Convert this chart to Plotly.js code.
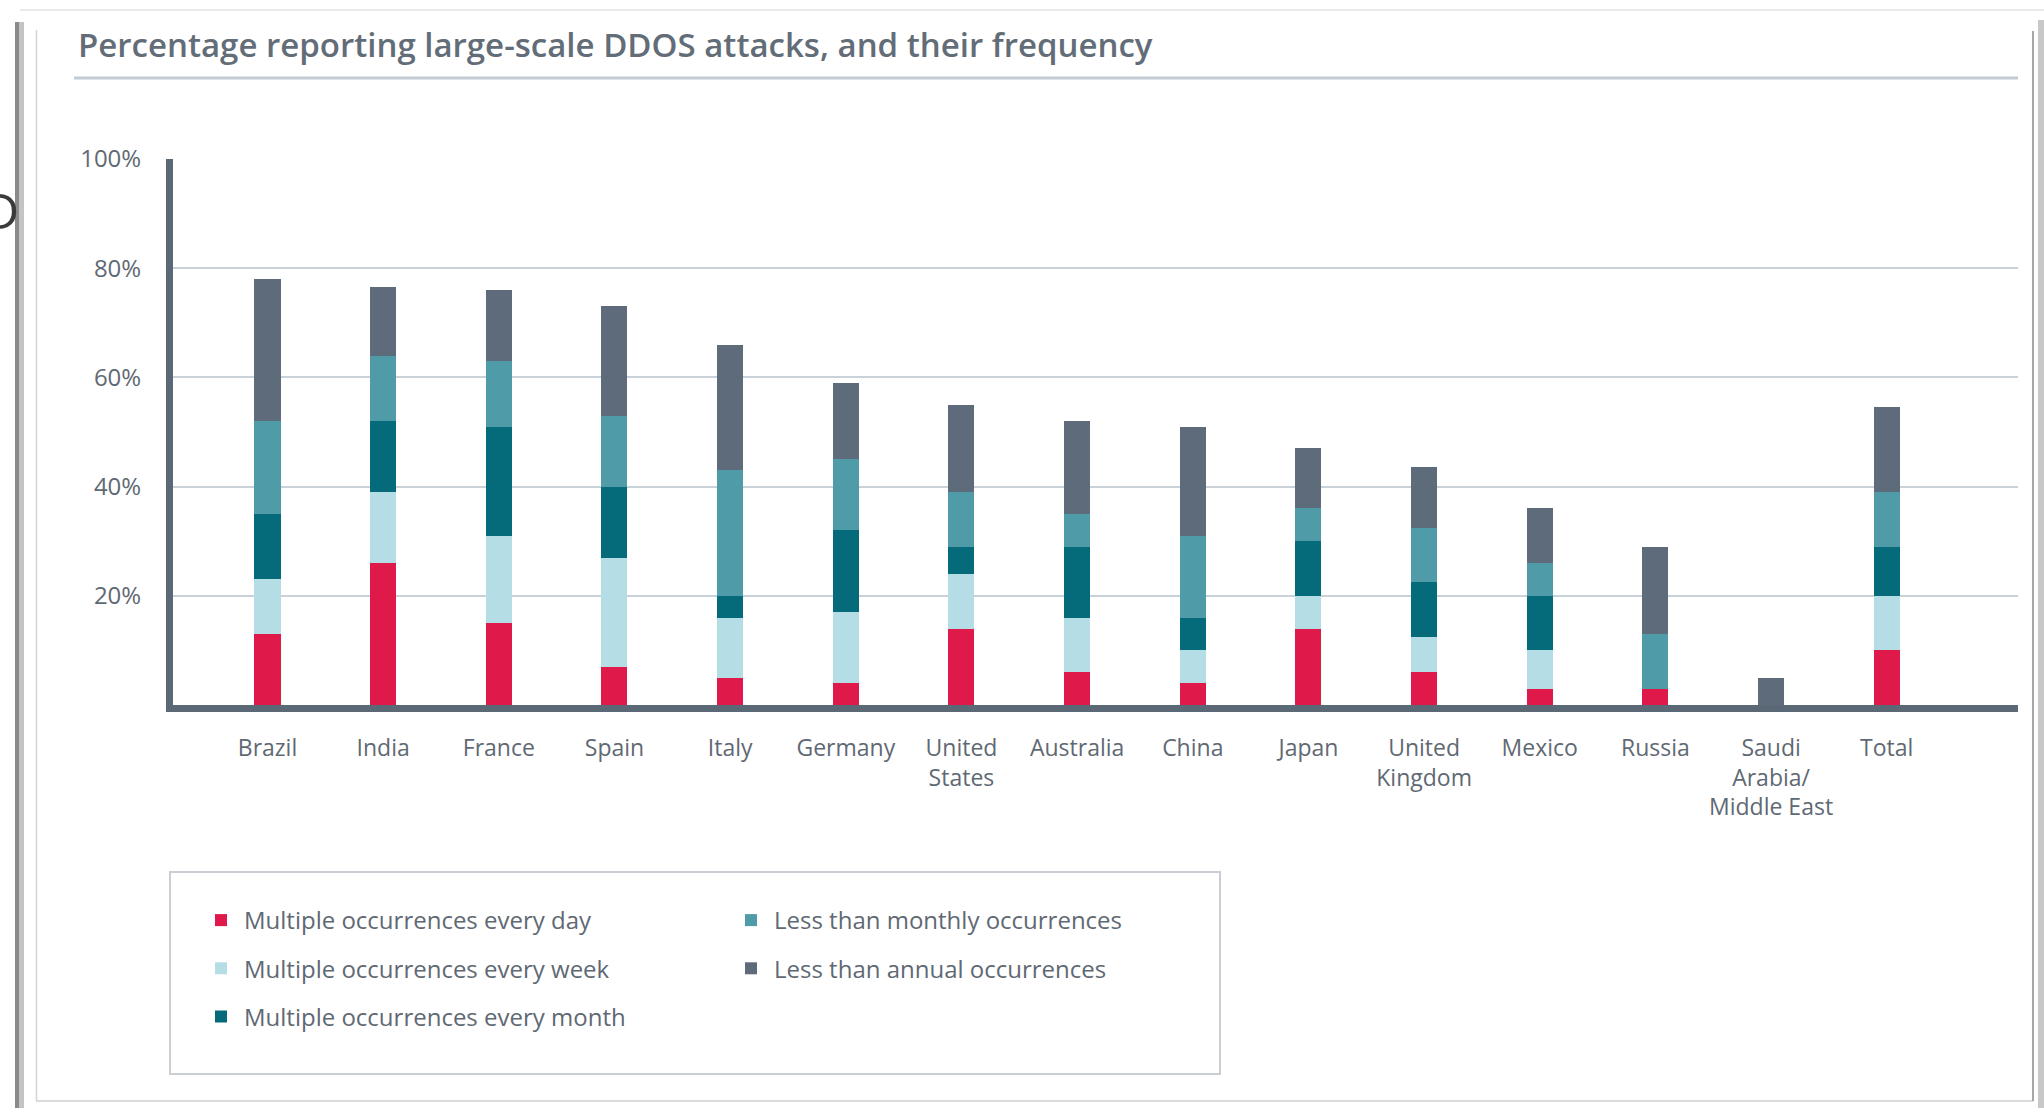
<!DOCTYPE html>
<html>
<head>
<meta charset="utf-8">
<script src="https://cdn.plot.ly/plotly-3.0.1.min.js"></script>
<style>
  html, body { margin: 0; padding: 0; background: #ffffff; }
  #chart { width: 2044px; height: 1108px; }
</style>
</head>
<body>
<div id="chart"></div>
<script>
// ---- data (percent of respondents) ----
const categories = ['Brazil', 'India', 'France', 'Spain', 'Italy', 'Germany', 'United<br>States',
  'Australia', 'China', 'Japan', 'United<br>Kingdom', 'Mexico', 'Russia',
  'Saudi<br>Arabia/<br>Middle East', 'Total'];

const seriesNames = ['Multiple occurrences every day', 'Multiple occurrences every week',
  'Multiple occurrences every month', 'Less than monthly occurrences', 'Less than annual occurrences'];

const everyDay     = [13, 26, 15, 7, 5, 4, 14, 6, 4, 14, 6, 3, 3, 0, 10];
const everyWeek    = [10, 13, 16, 20, 11, 13, 10, 10, 6, 6, 6.5, 7, 0, 0, 10];
const everyMonth   = [12, 13, 20, 13, 4, 15, 5, 13, 6, 10, 10, 10, 0, 0, 9];
const lessMonthly  = [17, 12, 12, 13, 23, 13, 10, 6, 15, 6, 10, 6, 10, 0, 10];
const lessAnnual   = [26, 12.5, 13, 20, 23, 14, 16, 17, 20, 11, 11, 10, 16, 5, 15.5];

const yTickVals = [20, 40, 60, 80, 100];
const yTickText = ['20%', '40%', '60%', '80%', '100%'];

const colors = ['#e0194b', '#b4dde6', '#056a7a', '#4f9ba8', '#5d6b7a'];

// ---- layout helpers (pixel -> paper) ----
const W = 2044, H = 1108;
const L = 173, R = 2018, T = 159, B = 705;
const px = x => (x - L) / (R - L);
const py = y => (B - y) / (B - T);

const FONT = '"Open Sans", "DejaVu Sans", sans-serif';
const TXT = '#5f6973';

const values = [everyDay, everyWeek, everyMonth, lessMonthly, lessAnnual];
const traces = values.map((v, i) => ({
  type: 'bar',
  name: seriesNames[i],
  x: categories,
  y: v,
  marker: { color: colors[i], line: { width: 0 } },
  legend: i < 3 ? 'legend' : 'legend2',
  legendgroup: 'g' + i,
  hoverinfo: 'skip'
}));

const shapes = [
  // outer frame / page edges
  { type: 'line', xref: 'paper', yref: 'paper', x0: px(20), x1: px(2044), y0: py(10), y1: py(10), line: { color: '#e3e3e3', width: 1.5 } },
  { type: 'rect', xref: 'paper', yref: 'paper', x0: px(15), x1: px(19), y0: py(22), y1: py(1108), fillcolor: '#8a8a8a', line: { width: 0 } },
  { type: 'rect', xref: 'paper', yref: 'paper', x0: px(19), x1: px(24), y0: py(22), y1: py(1108), fillcolor: '#c4c4c4', line: { width: 0 } },
  { type: 'line', xref: 'paper', yref: 'paper', x0: px(36.5), x1: px(36.5), y0: py(30), y1: py(1101), line: { color: '#d4d4d4', width: 1.5 } },
  { type: 'line', xref: 'paper', yref: 'paper', x0: px(36), x1: px(2033), y0: py(1101), y1: py(1101), line: { color: '#cfcfcf', width: 1.5 } },
  { type: 'line', xref: 'paper', yref: 'paper', x0: px(2033), x1: px(2033), y0: py(31), y1: py(1101), line: { color: '#8a8a8a', width: 1.5 } },
  { type: 'rect', xref: 'paper', yref: 'paper', x0: px(2038), x1: px(2044), y0: py(20), y1: py(1108), fillcolor: '#c8c8c8', line: { width: 0 } },
  // rule under the title
  { type: 'line', xref: 'paper', yref: 'paper', x0: px(74), x1: px(2018), y0: py(78), y1: py(78), line: { color: '#c3ccd4', width: 3 } },
  // legend frame
  { type: 'rect', xref: 'paper', yref: 'paper', x0: px(170), x1: px(1220), y0: py(872), y1: py(1074), line: { color: '#c8ced4', width: 2 }, fillcolor: 'rgba(0,0,0,0)' }
];

const legendCommon = {
  yanchor: 'top', xanchor: 'left',
  orientation: 'v', traceorder: 'grouped', tracegroupgap: 14,
  itemwidth: 36,
  bgcolor: 'rgba(0,0,0,0)', borderwidth: 0,
  font: { family: FONT, size: 24, color: TXT }
};

const layout = {
  width: W, height: H,
  margin: { l: L, r: W - R, t: T, b: H - B, pad: 0 },
  paper_bgcolor: '#ffffff',
  plot_bgcolor: '#ffffff',
  barmode: 'stack',
  bargap: 0.775,
  showlegend: true,
  title: {
    text: 'Percentage reporting large-scale DDOS attacks, and their frequency',
    xref: 'container', yref: 'container',
    x: 78 / W, xanchor: 'left',
    y: 1 - 45 / H, yanchor: 'middle',
    font: { family: FONT, size: 33, weight: 600, color: '#626d78' }
  },
  xaxis: {
    type: 'category',
    range: [-0.817, 15.135],
    showline: true, linecolor: '#5b6876', linewidth: 7,
    showgrid: false, zeroline: false,
    ticks: 'outside', ticklen: 16, tickcolor: 'rgba(0,0,0,0)',
    tickfont: { family: FONT, size: 23, color: TXT },
    fixedrange: true
  },
  yaxis: {
    range: [0, 100],
    tickvals: yTickVals, ticktext: yTickText,
    showline: true, linecolor: '#5b6876', linewidth: 7,
    showgrid: true, gridcolor: '#c9d1d9', gridwidth: 2,
    zeroline: false,
    ticks: 'outside', ticklen: 20, tickcolor: 'rgba(0,0,0,0)',
    tickfont: { family: FONT, size: 24, color: TXT },
    fixedrange: true
  },
  legend: Object.assign({ x: px(198), y: py(898) }, legendCommon),
  legend2: Object.assign({ x: px(728), y: py(898) }, legendCommon),
  shapes: shapes,
  annotations: [
    { text: 'D', xref: 'paper', yref: 'paper', x: px(21), y: py(210), xanchor: 'right', yanchor: 'middle',
      showarrow: false, font: { family: FONT, size: 50, color: '#3a3a3a' } }
  ]
};

Plotly.newPlot('chart', traces, layout, { staticPlot: true, displayModeBar: false });
</script>
</body>
</html>
